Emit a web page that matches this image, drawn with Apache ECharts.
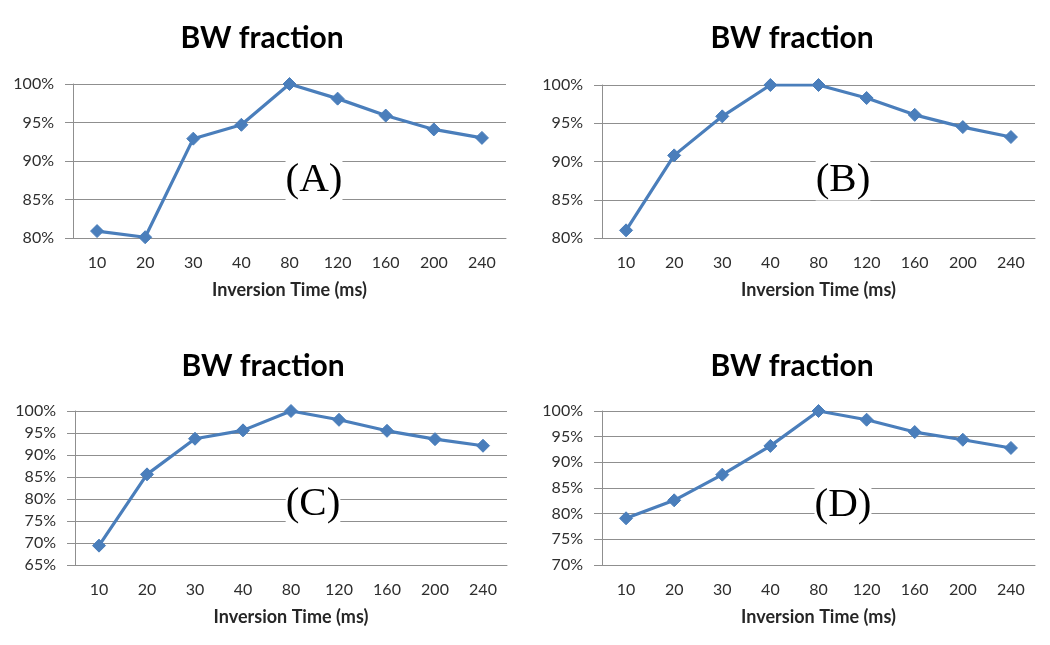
<!DOCTYPE html>
<html>
<head>
<meta charset="utf-8">
<script src="https://cdn.jsdelivr.net/npm/echarts@6/dist/echarts.min.js"></script>
<style>
html,body{margin:0;padding:0;background:#fff;}
#c{width:1050px;height:645px;}
</style>
</head>
<body>
<div id="c"></div>
<script>
// ---- data ----
var categories = ['10', '20', '30', '40', '80', '120', '160', '200', '240'];
var seriesA = [80.9, 80.1, 92.9, 94.7, 100, 98.1, 95.9, 94.1, 93.0];
var seriesB = [81.0, 90.8, 95.9, 100, 100, 98.3, 96.1, 94.5, 93.2];
var seriesC = [69.4, 85.6, 93.7, 95.6, 100, 98.0, 95.5, 93.6, 92.1];
var seriesD = [79.1, 82.6, 87.6, 93.2, 100, 98.3, 95.9, 94.4, 92.8];
var panelLabels = ['(A)', '(B)', '(C)', '(D)'];
var yMins = [80, 80, 65, 70];
var yMax = 100;
var yStep = 5;
var chartTitle = 'BW fraction';
var xTitle = 'Inversion Time (ms)';

// ---- layout ----
var grids = [
  {left: 73, top: 84, width: 433, height: 154},
  {left: 602, top: 85, width: 433, height: 153},
  {left: 75, top: 411, width: 432, height: 154},
  {left: 602, top: 411, width: 433, height: 154}
];
var titlePos = [[262, 38], [792, 38], [263, 366], [792, 366]];
var labelPos = [[314, 180], [843, 180], [313, 504], [843, 505]];
var allSeries = [seriesA, seriesB, seriesC, seriesD];

var FONT = 'Lato, "Open Sans", sans-serif';
var GRID_COLOR = '#8f8f8f';
var LINE_COLOR = '#4a7ebb';

var option = {
  backgroundColor: '#ffffff',
  animation: false,
  grid: grids,
  xAxis: [],
  yAxis: [],
  series: [],
  graphic: []
};

for (var i = 0; i < 4; i++) {
  option.xAxis.push({
    type: 'category',
    gridIndex: i,
    data: categories,
    boundaryGap: true,
    name: xTitle,
    nameLocation: 'middle',
    nameGap: 43,
    nameTextStyle: {fontFamily: FONT, fontWeight: 'bold', fontSize: 18, color: '#262626'},
    axisLine: {show: true, lineStyle: {color: GRID_COLOR, width: 1}},
    axisTick: {show: false},
    axisLabel: {fontFamily: FONT, fontSize: 16, color: '#2e2e2e', margin: 17},
    splitLine: {show: false}
  });
  option.yAxis.push({
    type: 'value',
    gridIndex: i,
    min: yMins[i],
    max: yMax,
    interval: yStep,
    axisLine: {show: true, lineStyle: {color: GRID_COLOR, width: 1}},
    axisTick: {show: true, length: 8, lineStyle: {color: GRID_COLOR, width: 1}},
    axisLabel: {fontFamily: FONT, fontSize: 16, color: '#2e2e2e', margin: 19, formatter: '{value}%'},
    splitLine: {show: true, lineStyle: {color: GRID_COLOR, width: 1}}
  });
  option.series.push({
    type: 'line',
    xAxisIndex: i,
    yAxisIndex: i,
    data: allSeries[i],
    symbol: 'diamond',
    symbolSize: 13,
    showAllSymbol: true,
    lineStyle: {color: LINE_COLOR, width: 3.2},
    itemStyle: {color: LINE_COLOR, borderColor: LINE_COLOR},
    z: 5
  });
  option.graphic.push({
    type: 'text',
    x: titlePos[i][0],
    y: titlePos[i][1],
    style: {
      text: chartTitle,
      align: 'center',
      verticalAlign: 'middle',
      font: 'bold 30px ' + FONT,
      fill: '#000'
    }
  });
  option.graphic.push({
    type: 'text',
    x: labelPos[i][0],
    y: labelPos[i][1],
    z: 10,
    style: {
      text: panelLabels[i],
      align: 'center',
      verticalAlign: 'middle',
      font: '41px "Liberation Serif", "Times New Roman", serif',
      fill: '#000',
      backgroundColor: '#ffffff'
    }
  });
}

var chart = echarts.init(document.getElementById('c'), null, {renderer: 'canvas'});
chart.setOption(option);
</script>
</body>
</html>
